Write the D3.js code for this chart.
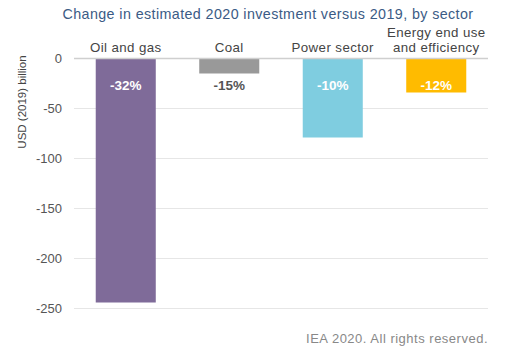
<!DOCTYPE html>
<html><head><meta charset="utf-8">
<script src="https://cdn.jsdelivr.net/npm/d3@7"></script>
<style>body{margin:0;background:#fff}svg{display:block;font-family:"Liberation Sans",Arial,sans-serif}</style>
</head><body>
<svg id="c" width="519" height="360"></svg>
<script>
const categories = [["Oil and gas"], ["Coal"], ["Power sector"], ["Energy end use", "and efficiency"]];
const values = [-244, -15, -79, -34];
const pctLabels = ["-32%", "-15%", "-10%", "-12%"];
const colors = ["#7f6b99", "#999999", "#7fcde0", "#ffbb00"];
const yTicks = [0, -50, -100, -150, -200, -250];

const svg = d3.select("#c");
const x = d3.scaleBand().domain(d3.range(categories.length)).range([74, 488]).paddingInner(0.42).paddingOuter(0.21);
const y = d3.scaleLinear().domain([0, -250]).range([58.5, 308.5]);

svg.append("text").attr("x", 268).attr("y", 19).attr("text-anchor", "middle")
  .attr("font-size", 14.3).attr("letter-spacing", 0.4).attr("fill", "#3b5b85")
  .text("Change in estimated 2020 investment versus 2019, by sector");

// gridlines
svg.append("g").selectAll("line").data(yTicks.slice(1)).join("line")
  .attr("x1", 74).attr("x2", 488).attr("y1", d => y(d)).attr("y2", d => y(d))
  .attr("stroke", "#e6e6e6").attr("stroke-width", 1);

// tick labels
svg.append("g").selectAll("text").data(yTicks).join("text")
  .attr("x", 62).attr("y", d => y(d) + 4.5).attr("text-anchor", "end")
  .attr("font-size", 13).attr("fill", "#555").text(d => d);

// bars
svg.append("g").selectAll("rect").data(values).join("rect")
  .attr("x", (d, i) => x(i)).attr("width", x.bandwidth())
  .attr("y", y(0)).attr("height", d => y(d) - y(0))
  .attr("fill", (d, i) => colors[i]);

// zero line
svg.append("line").attr("x1", 74).attr("x2", 488).attr("y1", y(0)).attr("y2", y(0))
  .attr("stroke", "#cfcfcf").attr("stroke-width", 1.5);

// pct labels
svg.append("g").selectAll("text").data(pctLabels).join("text")
  .attr("x", (d, i) => x(i) + x.bandwidth() / 2).attr("y", 90)
  .attr("text-anchor", "middle").attr("font-size", 13.5).attr("font-weight", "bold")
  .attr("fill", (d, i) => i === 1 ? "#555" : "#fff").text(d => d);

// category labels
categories.forEach((lines, i) => {
  const t = svg.append("text").attr("x", x(i) + x.bandwidth() / 2).attr("text-anchor", "middle")
    .attr("font-size", 13.3).attr("letter-spacing", 0.4).attr("fill", "#444");
  lines.forEach((l, j) => {
    t.append("tspan").attr("x", x(i) + x.bandwidth() / 2).attr("y", 52 - (lines.length - 1 - j) * 15).text(l);
  });
});

// y axis title
svg.append("text").attr("transform", "translate(26,102) rotate(-90)").attr("text-anchor", "middle")
  .attr("font-size", 11.5).attr("fill", "#444").text("USD (2019) billion");

// footer
svg.append("text").attr("x", 488).attr("y", 343).attr("text-anchor", "end")
  .attr("font-size", 13).attr("letter-spacing", 0.5).attr("fill", "#888").text("IEA 2020. All rights reserved.");
</script>
</body></html>
